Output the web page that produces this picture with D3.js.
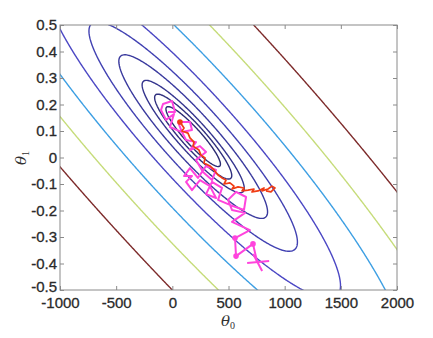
<!DOCTYPE html>
<html><head><meta charset="utf-8">
<script src="https://cdn.jsdelivr.net/npm/d3@7"></script>
<style>body{margin:0;background:#fff}</style>
</head><body>
<svg id="c" width="433" height="338"></svg>
<script>
// ---- data ----
const theta0Ticks = [-1000, -500, 0, 500, 1000, 1500, 2000];
const theta0Labels = ["-1000", "-500", "0", "500", "1000", "1500", "2000"];
const theta1Ticks = [-0.5, -0.4, -0.3, -0.2, -0.1, 0, 0.1, 0.2, 0.3, 0.4, 0.5];
const theta1Labels = ["-0.5", "-0.4", "-0.3", "-0.2", "-0.1", "0", "0.1", "0.2", "0.3", "0.4", "0.5"];

// cost surface J = u^2 + h01*u*v + h11*v^2, u=(θ0-c0)/1000, v=θ1-c1
const costCentre = [185.7, 0.0789];
const costCross = 3.943;
const costTheta1 = 4.5955;
const contourLevels = [0.0091, 0.0182, 0.0319, 0.0676, 0.1328, 0.2652, 0.5614, 1.0781, 1.9991];

// stochastic gradient descent path (magenta)
const sgdTheta0 = [755,718,567,558,691,531,647,531,496,567,656,638,513,407,442,353,300,389,335,246,175,122,175,104,157,228,300,389,353,273,211,300,246,157,211,122,86,175,157,50,86,-21,15,-56,-101,-83,-3,24,-39];
const sgdTheta1 = [-0.394,-0.326,-0.372,-0.304,-0.274,-0.243,-0.209,-0.198,-0.160,-0.130,-0.149,-0.198,-0.179,-0.160,-0.115,-0.092,-0.138,-0.153,-0.108,-0.085,-0.123,-0.092,-0.070,-0.070,-0.040,-0.077,-0.032,-0.047,-0.085,-0.055,-0.009,0.021,0.043,0.028,0.058,0.066,0.096,0.104,0.134,0.134,0.096,0.115,0.164,0.142,0.179,0.202,0.213,0.172,0.172];
const sgdDotIndex = [1, 2, 3];

// batch gradient descent path (red)
const bgdTheta0 = [68,104,86,139,157,193,184,237,255,291,282,335,371,407,442,478,460,513,549,531,585,638,620,674,727,709,763,816,798,852,887,914,878,834];
const bgdTheta1 = [0.134,0.111,0.100,0.092,0.074,0.058,0.043,0.028,0.009,-0.002,-0.021,-0.032,-0.047,-0.066,-0.077,-0.085,-0.100,-0.096,-0.108,-0.119,-0.111,-0.115,-0.126,-0.123,-0.119,-0.130,-0.126,-0.115,-0.126,-0.119,-0.108,-0.115,-0.130,-0.126];

// ---- styles ----
const levelColors = ["#2b2b72","#30307e","#35358e","#3a3a9e","#4141b2","#4b47c4","#3d9fe3","#c6dc7a","#7d2b2b"];

const W = 433, H = 338, L = 60, R = 397, T = 25, B = 290;
const svg = d3.select("#c");
const x = d3.scaleLinear([-1000, 2000], [L, R]);
const y = d3.scaleLinear([-0.5, 0.5], [B, T]);

svg.append("clipPath").attr("id", "cp").append("rect")
  .attr("x", L).attr("y", T).attr("width", R - L).attr("height", B - T);
const plot = svg.append("g").attr("clip-path", "url(#cp)");

// contour grid (extends beyond the axes, clipped)
const J = (t0, t1) => {
  const u = (t0 - costCentre[0]) / 1000, v = t1 - costCentre[1];
  return u * u + costCross * u * v + costTheta1 * v * v;
};
const nx = 400, ny = 300, gx0 = -1300, gx1 = 2300, gy0 = -0.65, gy1 = 0.65;
const vals = new Array(nx * ny);
for (let j = 0; j < ny; j++)
  for (let i = 0; i < nx; i++)
    vals[j * nx + i] = J(gx0 + (gx1 - gx0) * i / (nx - 1), gy0 + (gy1 - gy0) * j / (ny - 1));
const contours = d3.contours().size([nx, ny]).thresholds(contourLevels)(vals);
const gxs = d3.scaleLinear([0.5, nx - 0.5], [x(gx0), x(gx1)]);
const gys = d3.scaleLinear([0.5, ny - 0.5], [y(gy0), y(gy1)]);
const path = d3.geoPath(d3.geoTransform({ point(px, py) { this.stream.point(gxs(px), gys(py)); } }));
plot.selectAll("path.contour").data(contours).join("path")
  .attr("class", "contour")
  .attr("fill", "none")
  .attr("stroke", (d, i) => levelColors[i])
  .attr("stroke-width", 1.4)
  .attr("d", path);

// SGD path
const sgd = sgdTheta0.map((t, i) => [t, sgdTheta1[i]]);
const line = d3.line().x(d => x(d[0])).y(d => y(d[1]));
plot.append("path").attr("d", line(sgd)).attr("fill", "none")
  .attr("stroke", "#ff44dd").attr("stroke-width", 2).attr("stroke-linejoin", "round");
plot.selectAll("circle.sgd").data(sgdDotIndex.map(i => sgd[i])).join("circle")
  .attr("class", "sgd").attr("cx", d => x(d[0])).attr("cy", d => y(d[1])).attr("r", 2.8).attr("fill", "#ff44dd");
// start marker
const s0 = sgd[0];
const mk = plot.append("g").attr("transform", `translate(${x(s0[0])},${y(s0[1])})`)
  .attr("stroke", "#ff44dd").attr("stroke-width", 2).attr("fill", "none");
mk.append("line").attr("x1", -10).attr("y1", 1).attr("x2", 12).attr("y2", -1);
mk.append("line").attr("x1", -4).attr("y1", -8).attr("x2", 5).attr("y2", 9);

// batch GD path
const bgd = bgdTheta0.map((t, i) => [t, bgdTheta1[i]]);
plot.append("path").attr("d", line(bgd)).attr("fill", "none")
  .attr("stroke", "#f03c14").attr("stroke-width", 1.7).attr("stroke-linejoin", "round");
plot.append("circle").attr("cx", x(bgd[0][0])).attr("cy", y(bgd[0][1])).attr("r", 2.8).attr("fill", "#f03c14");

// axes box
const axisColor = "#8a8a8a";
svg.append("rect").attr("x", L).attr("y", T).attr("width", R - L).attr("height", B - T)
  .attr("fill", "none").attr("stroke", axisColor).attr("stroke-width", 1);

const fontFam = "'Liberation Sans', Arial, sans-serif";
function styleAxis(g) {
  g.select(".domain").remove();
  g.selectAll(".tick line").attr("stroke", axisColor);
  g.selectAll(".tick text").attr("fill", "#2a2a2a").attr("stroke", "#2a2a2a").attr("stroke-width", 0.3)
    .attr("font-size", 15).attr("font-family", fontFam);
}
svg.append("g").attr("transform", `translate(0,${B})`)
  .call(d3.axisBottom(x).tickValues(theta0Ticks).tickSize(-4).tickPadding(7)
    .tickFormat((d, i) => theta0Labels[i])).call(styleAxis);
svg.append("g").attr("transform", `translate(0,${T})`)
  .call(d3.axisTop(x).tickValues(theta0Ticks).tickSize(-4).tickFormat("")).call(styleAxis);
const yAxisG = svg.append("g").attr("transform", `translate(${L},0)`)
  .call(d3.axisLeft(y).tickValues(theta1Ticks).tickSize(-4).tickPadding(3)
    .tickFormat((d, i) => theta1Labels[i])).call(styleAxis);
// the lowest label sits slightly up so it clears the first θ0 label, as in the reference
yAxisG.selectAll(".tick text").filter(d => d === -0.5).attr("dy", "0.1em");
svg.append("g").attr("transform", `translate(${R},0)`)
  .call(d3.axisRight(y).tickValues(theta1Ticks).tickSize(-4).tickFormat("")).call(styleAxis);

// axis titles
const xt = svg.append("text").attr("x", 228).attr("y", 326).attr("text-anchor", "middle")
  .attr("font-family", "'DejaVu Serif', 'Liberation Serif', serif").attr("fill", "#333").attr("font-size", 15);
xt.append("tspan").attr("font-style", "italic").text("θ");
xt.append("tspan").attr("font-size", 10).attr("dy", 3).attr("font-family", "'Liberation Serif', serif").text("0");
const yt = svg.append("text").attr("transform", "translate(26,158) rotate(-90)").attr("text-anchor", "middle")
  .attr("font-family", "'DejaVu Serif', 'Liberation Serif', serif").attr("fill", "#333").attr("font-size", 15);
yt.append("tspan").attr("font-style", "italic").text("θ");
yt.append("tspan").attr("font-size", 10).attr("dy", 3).attr("font-family", "'Liberation Serif', serif").text("1");
</script>
</body></html>
